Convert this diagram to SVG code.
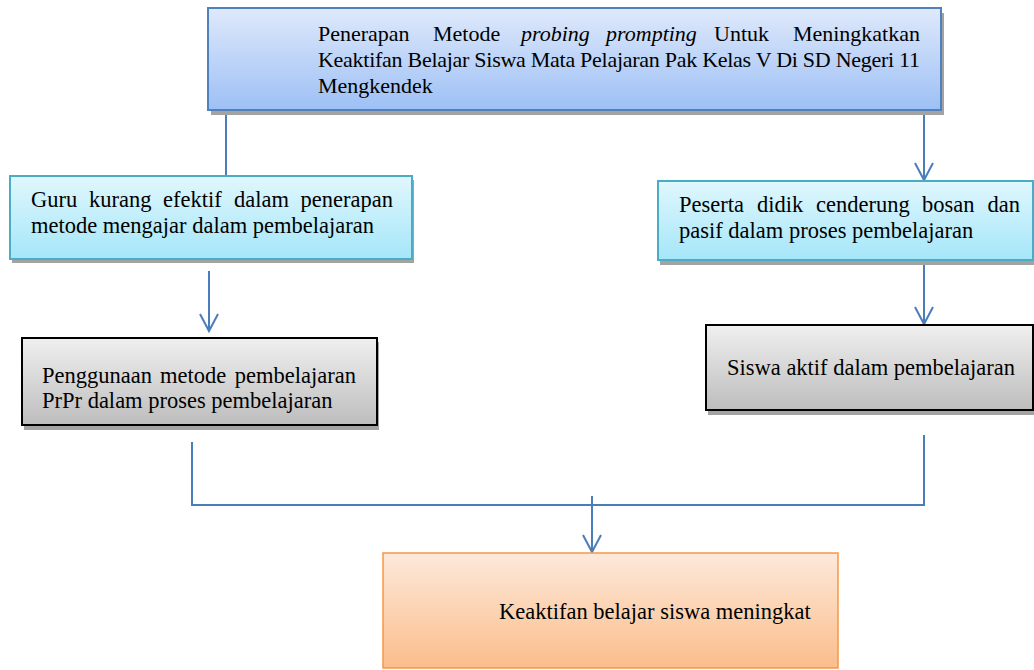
<svg xmlns="http://www.w3.org/2000/svg" width="1034" height="670" viewBox="0 0 1034 670">
<style>
.t{font-family:"Liberation Serif","Times New Roman",serif;fill:#000}
.tt{font-size:22px}
.tb{font-size:22.5px}
.sh{fill:#a3a3a3}
.con{fill:none;stroke:#4a7ebb;stroke-width:2}
</style>
<defs>
<linearGradient id="gBlue" x1="0" y1="0" x2="0" y2="1"><stop offset="0" stop-color="#dfe9fb"/><stop offset="1" stop-color="#9dc0f5"/></linearGradient>
<linearGradient id="gCyan" x1="0" y1="0" x2="0" y2="1"><stop offset="0" stop-color="#e0f7fd"/><stop offset="1" stop-color="#a5e6f9"/></linearGradient>
<linearGradient id="gGray" x1="0" y1="0" x2="0" y2="1"><stop offset="0" stop-color="#f0f0f0"/><stop offset="1" stop-color="#bdbdbd"/></linearGradient>
<linearGradient id="gOrange" x1="0" y1="0" x2="0" y2="1"><stop offset="0" stop-color="#fde9da"/><stop offset="1" stop-color="#fbbd8b"/></linearGradient>
<marker id="ah" markerUnits="userSpaceOnUse" orient="auto" overflow="visible" markerWidth="20" markerHeight="20" refX="0" refY="0">
<path d="M-17,-9 L0,0 L-17,9" fill="none" stroke="#4a7ebb" stroke-width="2"/>
</marker>
</defs>

<g id="connectors">
<line class="con" x1="226" y1="106" x2="226" y2="176"/>
<line class="con" x1="924" y1="106" x2="924" y2="180" marker-end="url(#ah)"/>
<line class="con" x1="209" y1="271" x2="209" y2="331" marker-end="url(#ah)"/>
<line class="con" x1="924" y1="265" x2="924" y2="324" marker-end="url(#ah)"/>
<polyline class="con" points="192,442 192,505 924,505 924,435"/>
<line class="con" x1="592" y1="496" x2="592" y2="552" marker-end="url(#ah)"/>
</g>

<g id="node-top">
<rect class="sh" x="211" y="13" width="733" height="102"/>
<rect x="208" y="8" width="733" height="102" fill="url(#gBlue)" stroke="#4f81bd" stroke-width="2"/>
<text class="t tt" y="41"><tspan x="318">Penerapan</tspan><tspan x="433">Metode</tspan><tspan x="521" font-style="italic">probing</tspan><tspan x="606" font-style="italic">prompting</tspan><tspan x="714">Untuk</tspan></text>
<text class="t tt" x="920" y="41" text-anchor="end">Meningkatkan</text>
<text class="t tt" x="318" y="67" textLength="602" lengthAdjust="spacing">Keaktifan Belajar Siswa Mata Pelajaran Pak Kelas V Di SD Negeri 11</text>
<text class="t tt" x="318" y="93">Mengkendek</text>
</g>

<g id="node-guru">
<rect class="sh" x="12" y="180" width="402" height="83"/>
<rect x="10" y="176" width="402" height="83" fill="url(#gCyan)" stroke="#4bacc6" stroke-width="2"/>
<text class="t tb" y="207"><tspan x="31">Guru</tspan><tspan x="89">kurang</tspan><tspan x="163">efektif</tspan><tspan x="234">dalam</tspan></text>
<text class="t tb" x="393" y="207" text-anchor="end">penerapan</text>
<text class="t tb" x="31" y="233">metode mengajar dalam pembelajaran</text>
</g>

<g id="node-peserta">
<rect class="sh" x="660" y="185" width="380" height="80"/>
<rect x="658" y="181" width="375" height="79" fill="url(#gCyan)" stroke="#4bacc6" stroke-width="2"/>
<text class="t tb" y="212"><tspan x="679">Peserta</tspan><tspan x="757">didik</tspan><tspan x="816">cenderung</tspan><tspan x="922">bosan</tspan></text>
<text class="t tb" x="1020" y="212" text-anchor="end">dan</text>
<text class="t tb" x="679" y="238">pasif dalam proses pembelajaran</text>
</g>

<g id="node-penggunaan">
<rect class="sh" x="24" y="342" width="355" height="88"/>
<rect x="22" y="338" width="355" height="87" fill="url(#gGray)" stroke="#000" stroke-width="2"/>
<text class="t tb" y="383"><tspan x="42">Penggunaan</tspan><tspan x="160">metode</tspan></text>
<text class="t tb" x="356" y="383" text-anchor="end">pembelajaran</text>
<text class="t tb" x="42" y="408">PrPr dalam proses pembelajaran</text>
</g>

<g id="node-siswa">
<rect class="sh" x="708" y="329" width="330" height="86"/>
<rect x="706" y="325" width="327" height="85" fill="url(#gGray)" stroke="#000" stroke-width="2"/>
<text class="t tb" x="727" y="375">Siswa aktif dalam pembelajaran</text>
</g>

<g id="node-hasil">
<rect x="383" y="553" width="455" height="115" fill="url(#gOrange)" stroke="#f79646" stroke-width="1.5"/>
<text class="t" font-size="22.5" x="499" y="619">Keaktifan belajar siswa meningkat</text>
</g>
</svg>
